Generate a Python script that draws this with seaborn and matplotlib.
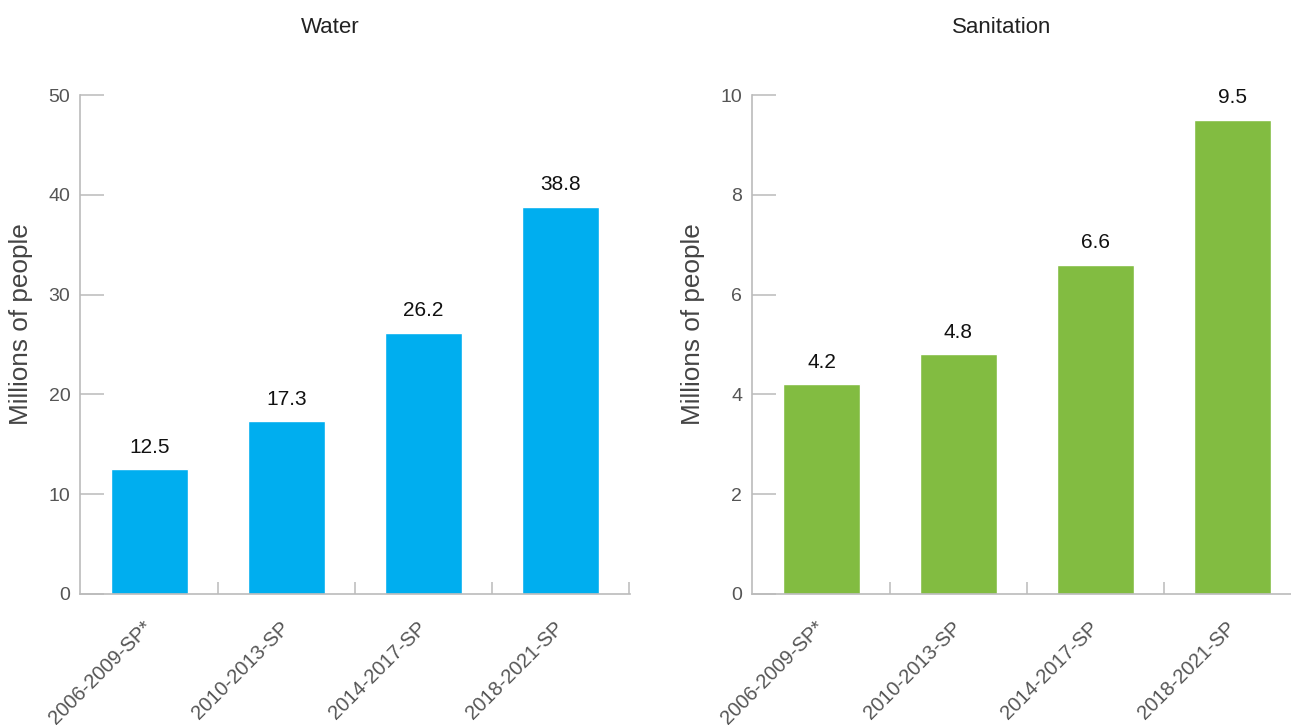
import numpy as np
import matplotlib.pyplot as plt
import seaborn as sns

periods = ['2006-2009-SP*', '2010-2013-SP', '2014-2017-SP', '2018-2021-SP']
water = [12.5, 17.3, 26.2, 38.8]
sanitation = [4.2, 4.8, 6.6, 9.5]
titles = ['Water', 'Sanitation']
colors = ['#00AEEF', '#82BC41']
y_max = [50, 10]
y_step = [10, 2]

sns.set_style('white')
plt.rcParams['font.family'] = ['Liberation Sans', 'DejaVu Sans']

fig = plt.figure(figsize=(12.91, 7.25), dpi=100)
ax1 = fig.add_axes([80 / 1291, 1 - 594 / 725, 550 / 1291, 499 / 725])
ax2 = fig.add_axes([752 / 1291, 1 - 594 / 725, 550 / 1291, 499 / 725])

spine_col = '#BBBBBB'
for ax, vals, title, col, ym, st in zip([ax1, ax2], [water, sanitation], titles,
                                        colors, y_max, y_step):
    sns.barplot(x=periods, y=vals, color=col, saturation=1, width=0.56, ax=ax)
    ax.set_xlim(-0.507, 3.507)
    ax.set_ylim(0, ym)
    ax.set_yticks(np.arange(0, ym + st / 2, st))
    for s in ['top', 'right']:
        ax.spines[s].set_visible(False)
    for s in ['left', 'bottom']:
        ax.spines[s].set_color(spine_col)
        ax.spines[s].set_linewidth(1.2)
    ax.tick_params(axis='y', direction='in', length=17, width=1.1,
                   color=spine_col, labelsize=14, labelcolor='#555555', pad=7,
                   left=True)
    ax.tick_params(axis='x', which='major', length=0, labelsize=14.5,
                   labelcolor='#555555', pad=22)
    ax.set_xticks([0.5, 1.5, 2.5, 3.5], minor=True)
    ax.tick_params(axis='x', which='minor', direction='in', length=9,
                   width=1.1, color=spine_col, bottom=True)
    for lbl in ax.get_xticklabels():
        lbl.set_rotation(45)
        lbl.set_ha('right')
        lbl.set_va('center')
        lbl.set_rotation_mode('anchor')
    ax.bar_label(ax.containers[0], fmt='%.1f', padding=9, fontsize=15,
                 color='#111111')
    ax.set_xlabel('')
    ax.set_ylabel('Millions of people', fontsize=18.8, color='#444444')
    ax.yaxis.set_label_coords(-0.085, 0.54)
    ax.text(0.4545, 1.136, title, transform=ax.transAxes, ha='center',
            va='center', fontsize=16, color='#222222')

fig.savefig('out.png', dpi=100)
